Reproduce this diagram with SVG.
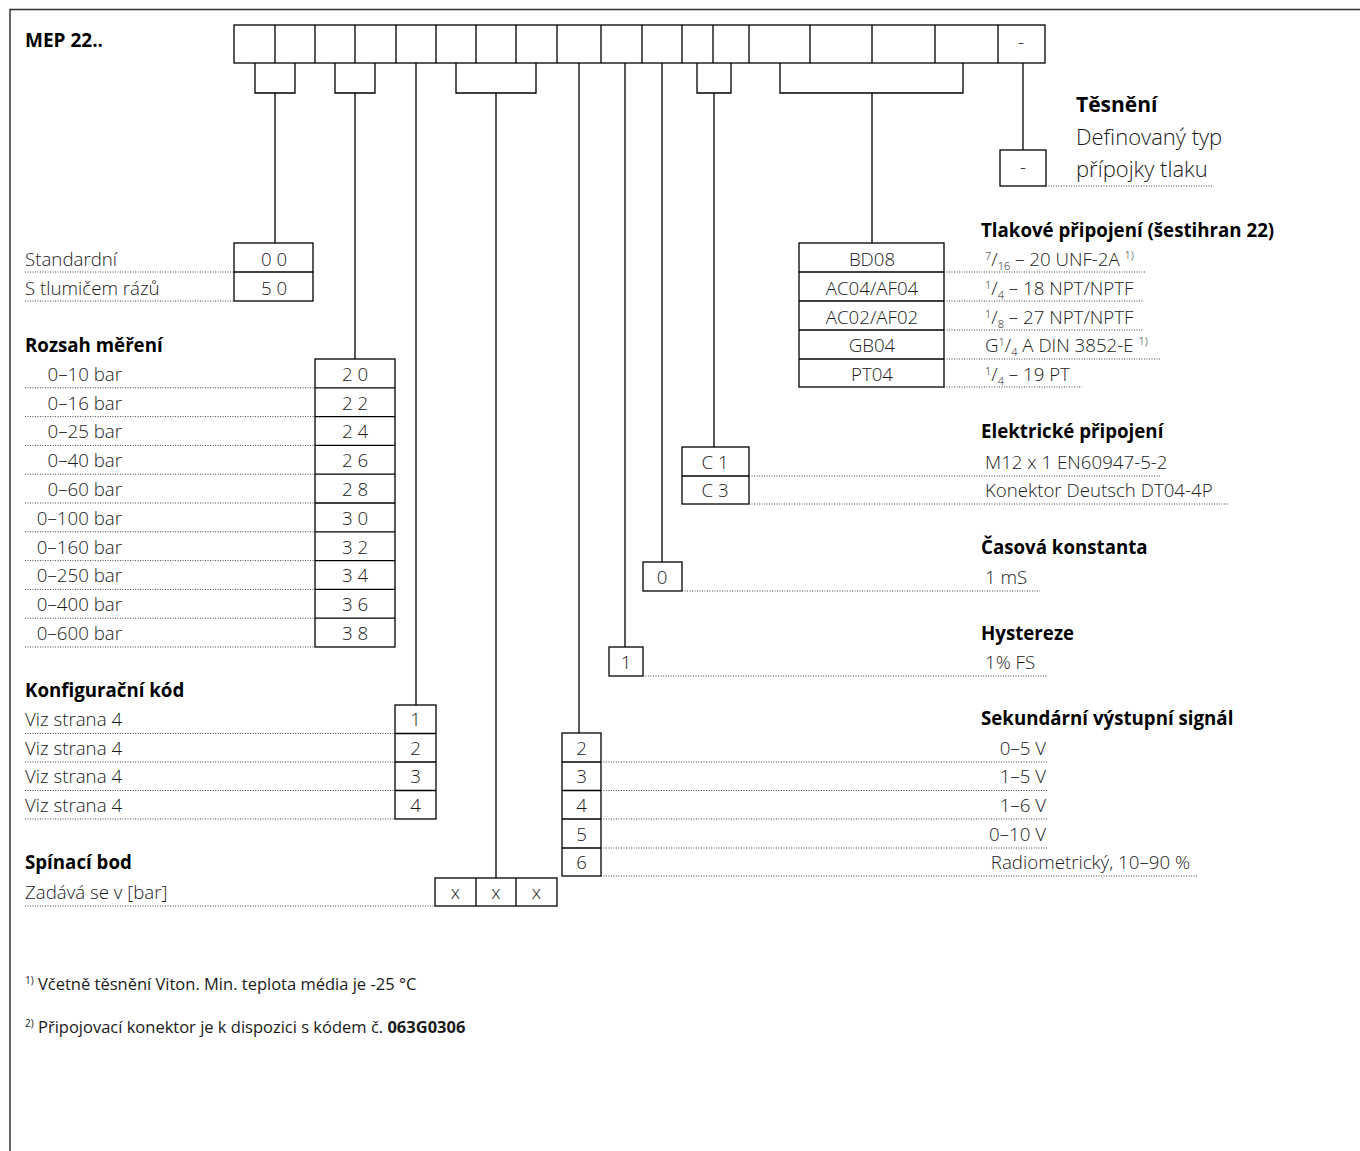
<svg xmlns="http://www.w3.org/2000/svg" width="1360" height="1151" viewBox="0 0 1360 1151">
<style>
.t{font-family:"Open Sans","Liberation Sans",sans-serif;font-size:18.7px;font-weight:300;fill:#1a1a1a}
.h{font-family:"Open Sans","Liberation Sans",sans-serif;font-size:18.7px;font-weight:700;fill:#000}
.c{text-anchor:middle}
.r{text-anchor:end}
.fn{font-size:16.5px;font-weight:400}
.box{fill:#fff;stroke:#000;stroke-width:1.3}
.ln{fill:none;stroke:#000;stroke-width:1.3}
.dot{fill:none;stroke:#444;stroke-width:1;stroke-dasharray:1 1.5}
.frame{fill:none;stroke:#333;stroke-width:1.5}
</style>
<rect width="1360" height="1151" fill="#fff"/>
<path class="frame" d="M10,1151 V9.5 H1360"/>

<g id="title"><text class="h" x="25" y="47" style="font-size:19px">MEP 22..</text></g>

<g id="code-row">
<rect class="box" x="234" y="25" width="811" height="38"/>
<path class="ln" d="M275,25V63M315,25V63M355,25V63M396,25V63M436,25V63M476,25V63M516,25V63M557,25V63M601,25V63M642,25V63M682,25V63M713,25V63M749,25V63M810,25V63M872,25V63M935,25V63M998,25V63"/>
<text class="t c" x="1021" y="49">-</text>
</g>

<g id="connectors">
<path class="ln" d="M255,63V93H295V63M275,93V243"/>
<path class="ln" d="M335,63V93H375V63M355,93V359"/>
<path class="ln" d="M416,63V705"/>
<path class="ln" d="M456,63V93H536V63M496,93V878"/>
<path class="ln" d="M579,63V733"/>
<path class="ln" d="M625,63V647"/>
<path class="ln" d="M662,63V562"/>
<path class="ln" d="M697,63V93H731V63M714,93V447"/>
<path class="ln" d="M780,63V93H963V63M872,93V243"/>
<path class="ln" d="M1023,63V150"/>
</g>

<g id="tesneni">
<text class="h" x="1076" y="112" style="font-size:21px">Těsnění</text>
<text class="t" x="1076" y="145" style="font-size:22px">Definovaný typ</text>
<text class="t" x="1076" y="177" style="font-size:22px">přípojky tlaku</text>
<rect class="box" x="1000" y="150" width="46" height="36"/>
<text class="t c" x="1023" y="174">-</text>
<path class="dot" d="M1046,186H1213"/>
</g>

<g id="tlumic">
<rect class="box" x="234" y="243" width="79" height="58"/>
<path class="ln" d="M234,272H313"/>
<text class="t c" x="274" y="266">0 0</text>
<text class="t c" x="274" y="295">5 0</text>
<text class="t" x="25" y="266">Standardní</text>
<text class="t" x="25" y="295">S tlumičem rázů</text>
<path class="dot" d="M25,272H234M25,301H234"/>
</g>

<g id="rozsah">
<text class="h" x="25" y="352">Rozsah měření</text>
<rect class="box" x="315" y="359" width="80" height="288"/>
<path class="ln" d="M315,387.8H395M315,416.6H395M315,445.4H395M315,474.2H395M315,503H395M315,531.8H395M315,560.6H395M315,589.4H395M315,618.2H395"/>
<path class="dot" d="M25,387.8H315M25,416.6H315M25,445.4H315M25,474.2H315M25,503H315M25,531.8H315M25,560.6H315M25,589.4H315M25,618.2H315M25,647H315"/>
<text class="t r" x="122" y="381">0–10 bar</text>
<text class="t r" x="122" y="410">0–16 bar</text>
<text class="t r" x="122" y="438">0–25 bar</text>
<text class="t r" x="122" y="467">0–40 bar</text>
<text class="t r" x="122" y="496">0–60 bar</text>
<text class="t r" x="122" y="525">0–100 bar</text>
<text class="t r" x="122" y="554">0–160 bar</text>
<text class="t r" x="122" y="582">0–250 bar</text>
<text class="t r" x="122" y="611">0–400 bar</text>
<text class="t r" x="122" y="640">0–600 bar</text>
<text class="t c" x="355" y="381">2 0</text>
<text class="t c" x="355" y="410">2 2</text>
<text class="t c" x="355" y="438">2 4</text>
<text class="t c" x="355" y="467">2 6</text>
<text class="t c" x="355" y="496">2 8</text>
<text class="t c" x="355" y="525">3 0</text>
<text class="t c" x="355" y="554">3 2</text>
<text class="t c" x="355" y="582">3 4</text>
<text class="t c" x="355" y="611">3 6</text>
<text class="t c" x="355" y="640">3 8</text>
</g>

<g id="konfigurace">
<text class="h" x="25" y="697">Konfigurační kód</text>
<rect class="box" x="395" y="705" width="41" height="114"/>
<path class="ln" d="M395,733.5H436M395,762H436M395,790.5H436"/>
<path class="dot" d="M25,733.5H395M25,762H395M25,790.5H395M25,819H395"/>
<text class="t" x="25" y="726">Viz strana 4</text>
<text class="t" x="25" y="755">Viz strana 4</text>
<text class="t" x="25" y="783">Viz strana 4</text>
<text class="t" x="25" y="812">Viz strana 4</text>
<text class="t c" x="415.5" y="726">1</text>
<text class="t c" x="415.5" y="755">2</text>
<text class="t c" x="415.5" y="783">3</text>
<text class="t c" x="415.5" y="812">4</text>
</g>

<g id="spinaci-bod">
<text class="h" x="25" y="869">Spínací bod</text>
<text class="t" x="25" y="899">Zadává se v [bar]</text>
<path class="dot" d="M25,906H435"/>
<rect class="box" x="435" y="878" width="122" height="28"/>
<path class="ln" d="M476,878V906M516,878V906"/>
<text class="t c" x="455.5" y="899">x</text>
<text class="t c" x="496" y="899">x</text>
<text class="t c" x="536.5" y="899">x</text>
</g>

<g id="tlakove-pripojeni">
<text class="h" x="981" y="237">Tlakové připojení (šestihran 22)</text>
<rect class="box" x="799" y="243" width="145" height="144"/>
<path class="ln" d="M799,272H944M799,301H944M799,330H944M799,359H944"/>
<text class="t c" x="872" y="266">BD08</text>
<text class="t c" x="872" y="295">AC04/AF04</text>
<text class="t c" x="872" y="324">AC02/AF02</text>
<text class="t c" x="872" y="352">GB04</text>
<text class="t c" x="872" y="381">PT04</text>
<path class="dot" d="M944,272H1146M944,301H1144M944,330H1144M944,359H1160M944,387H1082"/>
<text class="t" x="985" y="266"><tspan font-size="11" dy="-6">7</tspan><tspan dy="6">/</tspan><tspan font-size="11" dy="4">16</tspan><tspan dy="-4"> – 20 UNF-2A </tspan><tspan font-size="11" dy="-7">1)</tspan></text>
<text class="t" x="985" y="295"><tspan font-size="11" dy="-6">1</tspan><tspan dy="6">/</tspan><tspan font-size="11" dy="4">4</tspan><tspan dy="-4"> – 18 NPT/NPTF</tspan></text>
<text class="t" x="985" y="324"><tspan font-size="11" dy="-6">1</tspan><tspan dy="6">/</tspan><tspan font-size="11" dy="4">8</tspan><tspan dy="-4"> – 27 NPT/NPTF</tspan></text>
<text class="t" x="985" y="352">G<tspan font-size="11" dy="-6">1</tspan><tspan dy="6">/</tspan><tspan font-size="11" dy="4">4</tspan><tspan dy="-4"> A DIN 3852-E </tspan><tspan font-size="11" dy="-7">1)</tspan></text>
<text class="t" x="985" y="381"><tspan font-size="11" dy="-6">1</tspan><tspan dy="6">/</tspan><tspan font-size="11" dy="4">4</tspan><tspan dy="-4"> – 19 PT</tspan></text>
</g>

<g id="elektricke-pripojeni">
<text class="h" x="981" y="438">Elektrické připojení</text>
<rect class="box" x="682" y="447" width="67" height="57"/>
<path class="ln" d="M682,476H749"/>
<text class="t c" x="715" y="469">C 1</text>
<text class="t c" x="715" y="497">C 3</text>
<path class="dot" d="M749,476H1160M749,504H1228"/>
<text class="t" x="985" y="469">M12 x 1 EN60947-5-2</text>
<text class="t" x="985" y="497">Konektor Deutsch DT04-4P</text>
</g>

<g id="casova-konstanta">
<text class="h" x="981" y="554">Časová konstanta</text>
<rect class="box" x="643" y="562" width="39" height="29"/>
<text class="t c" x="662" y="584">0</text>
<path class="dot" d="M682,591H1040"/>
<text class="t" x="985" y="584">1 mS</text>
</g>

<g id="hystereze">
<text class="h" x="981" y="640">Hystereze</text>
<rect class="box" x="609" y="647" width="34" height="29"/>
<text class="t c" x="626" y="669">1</text>
<path class="dot" d="M643,676H1048"/>
<text class="t" x="985" y="669">1% FS</text>
</g>

<g id="sekundarni-signal">
<text class="h" x="981" y="725">Sekundární výstupní signál</text>
<rect class="box" x="562" y="733" width="39" height="143"/>
<path class="ln" d="M562,762H601M562,790.5H601M562,819H601M562,848H601"/>
<text class="t c" x="581.5" y="755">2</text>
<text class="t c" x="581.5" y="783">3</text>
<text class="t c" x="581.5" y="812">4</text>
<text class="t c" x="581.5" y="841">5</text>
<text class="t c" x="581.5" y="869">6</text>
<path class="dot" d="M601,762H1048M601,790.5H1048M601,819H1048M601,848H1048M601,876H1198"/>
<text class="t r" x="1046" y="755">0–5 V</text>
<text class="t r" x="1046" y="783">1–5 V</text>
<text class="t r" x="1046" y="812">1–6 V</text>
<text class="t r" x="1046" y="841">0–10 V</text>
<text class="t r" x="1190" y="869">Radiometrický, 10–90 %</text>
</g>

<g id="footnotes">
<text class="t fn" x="25" y="990"><tspan font-size="10" dy="-6">1)</tspan><tspan dy="6"> Včetně těsnění Viton. Min. teplota média je -25 °C</tspan></text>
<text class="t fn" x="25" y="1033"><tspan font-size="10" dy="-6">2)</tspan><tspan dy="6"> Připojovací konektor je k dispozici s kódem č. </tspan><tspan font-weight="700">063G0306</tspan></text>
</g>
</svg>
